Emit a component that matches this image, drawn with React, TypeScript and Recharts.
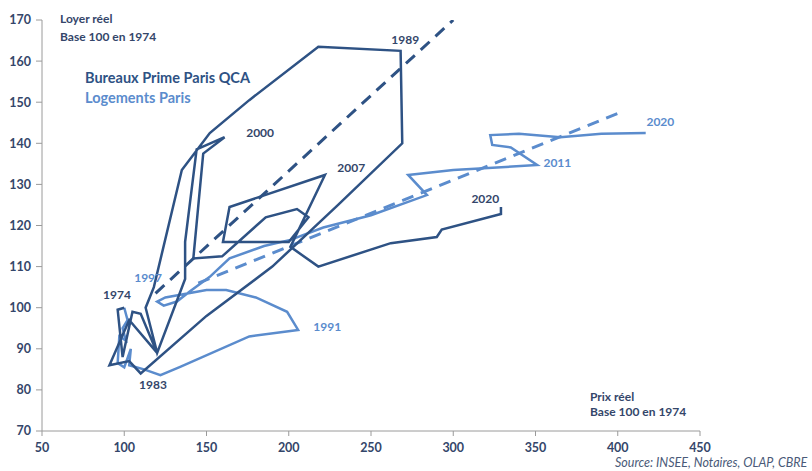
import React from 'react';
import { LineChart, Line, XAxis, YAxis, ReferenceDot } from 'recharts';

const xTicks = [50, 100, 150, 200, 250, 300, 350, 400, 450];
const yTicks = [70, 80, 90, 100, 110, 120, 130, 140, 150, 160, 170];

// Bureaux Prime Paris QCA : prix réel (x) / loyer réel (y), base 100 en 1974
const bureauxPrix = [100, 96, 99, 105, 110, 120, 103, 91, 103, 110, 150, 190, 230, 269, 268, 218, 176, 152, 135, 118, 113, 120, 137, 137, 144, 161, 148, 142, 159.5, 186, 205, 212, 200, 160, 164, 222, 201, 218, 262, 290, 293, 329, 329];
const bureauxLoyer = [100, 99.5, 88, 99, 98.5, 89, 97, 86, 87, 84, 98, 110, 125, 140, 162.5, 163.5, 150.5, 142.5, 133.5, 105, 100, 89, 107, 116, 138.5, 141.5, 137.5, 112, 112.5, 122, 124, 122, 116, 116, 124.5, 132.3, 114.8, 110, 115.7, 117.2, 119, 122.8, 124.5];

// Logements Paris
const logementsPrix = [100, 102, 99, 101, 97, 96, 100, 104, 103, 112, 122, 134, 176, 205.7, 199, 180, 162, 150, 125, 120, 124, 132, 140, 152, 164, 185, 201, 221, 250, 284, 272.6, 300, 351, 335, 323.7, 322.5, 340, 365, 390, 417];
const logementsLoyer = [100, 97, 95, 92, 93, 86.5, 85.5, 90, 86, 85, 83.6, 85.6, 93, 94.6, 99, 102.5, 104.3, 104.3, 102.5, 101.5, 100.5, 101.5, 104, 107.5, 112, 115, 116.5, 119.5, 122.5, 127.4, 132.3, 133.5, 134.7, 139, 139.6, 142, 142.3, 141.5, 142.3, 142.5];

// tendances
const trendBureauxPrix = [119, 300];
const trendBureauxLoyer = [103.5, 170];
const trendLogementsPrix = [145, 402];
const trendLogementsLoyer = [106, 147.6];

// années annotées
const bureauxYears = ['1974', '1983', '1989', '2000', '2007', '2020'];
const bureauxYearX = [95.6, 117.5, 270.8, 182.6, 238, 319.5];
const bureauxYearY = [103.1, 81.2, 165.1, 142.5, 134, 126.4];
const logementsYears = ['1991', '1997', '2011', '2020'];
const logementsYearX = [223.4, 114.5, 363.3, 425.9];
const logementsYearY = [95.3, 107.2, 135.2, 145.2];

const DARK = '#2E5284';
const LIGHT = '#5B8CCD';
const TEXT = '#34466A';

const zip = (xs: number[], ys: number[]) => xs.map((x, i) => ({ x, y: ys[i] }));

const bureauxData = zip(bureauxPrix, bureauxLoyer);
const logementsData = zip(logementsPrix, logementsLoyer);
const trendBureaux = zip(trendBureauxPrix, trendBureauxLoyer);
const trendLogements = zip(trendLogementsPrix, trendLogementsLoyer);

const tickStyle = { fill: TEXT, fontSize: 12.5, fontWeight: 700, fontFamily: 'Lato' };

export default function App() {
  return (
    <div style={{ position: 'absolute', left: 0, top: 0, width: 812, height: 471, background: '#fff', fontFamily: 'Lato, sans-serif', overflow: 'hidden' }}>
      <LineChart width={812} height={471} margin={{ top: 20, right: 112, bottom: 0, left: 0 }}>
        <XAxis type="number" dataKey="x" domain={[50, 450]} ticks={xTicks} allowDataOverflow height={40}
          tickSize={5} tickMargin={7} stroke="#9a9a9a" tick={tickStyle} />
        <YAxis type="number" dataKey="y" domain={[70, 170]} ticks={yTicks} allowDataOverflow width={42}
          tickSize={6} tickMargin={5} stroke="#9a9a9a" tick={tickStyle} />
        <Line data={trendBureaux} dataKey="y" stroke={DARK} strokeWidth={3} strokeDasharray="12 8" dot={false} activeDot={false} isAnimationActive={false} />
        <Line data={trendLogements} dataKey="y" stroke={LIGHT} strokeWidth={3} strokeDasharray="12 8" dot={false} activeDot={false} isAnimationActive={false} />
        <Line data={logementsData} dataKey="y" stroke={LIGHT} strokeWidth={2.5} dot={false} activeDot={false} isAnimationActive={false} />
        <Line data={bureauxData} dataKey="y" stroke={DARK} strokeWidth={2.5} dot={false} activeDot={false} isAnimationActive={false} />
        {bureauxYears.map((t, i) => (
          <ReferenceDot key={'b' + t} x={bureauxYearX[i]} y={bureauxYearY[i]} r={0} stroke="none"
            label={{ value: t, position: 'center', fill: TEXT, fontSize: 12, fontWeight: 700, fontFamily: 'Lato' }} />
        ))}
        {logementsYears.map((t, i) => (
          <ReferenceDot key={'l' + t} x={logementsYearX[i]} y={logementsYearY[i]} r={0} stroke="none"
            label={{ value: t, position: 'center', fill: LIGHT, fontSize: 12, fontWeight: 700, fontFamily: 'Lato' }} />
        ))}
      </LineChart>

      <div style={{ position: 'absolute', left: 60, top: 10, color: TEXT, fontSize: 12, fontWeight: 700, lineHeight: '18px' }}>
        Loyer réel<br />Base 100 en 1974
      </div>
      <div style={{ position: 'absolute', left: 85, top: 68, fontSize: 14.5, fontWeight: 700, lineHeight: '20px' }}>
        <div style={{ color: DARK }}>Bureaux Prime Paris QCA</div>
        <div style={{ color: LIGHT }}>Logements Paris</div>
      </div>
      <div style={{ position: 'absolute', left: 590, top: 389, color: TEXT, fontSize: 12, fontWeight: 700, lineHeight: '15px' }}>
        Prix réel<br />Base 100 en 1974
      </div>
      <div style={{ position: 'absolute', left: 615, top: 455, color: '#4a5a78', fontSize: 12.5, fontStyle: 'italic', whiteSpace: 'nowrap' }}>
        Source: INSEE, Notaires, OLAP, CBRE
      </div>
    </div>
  );
}
